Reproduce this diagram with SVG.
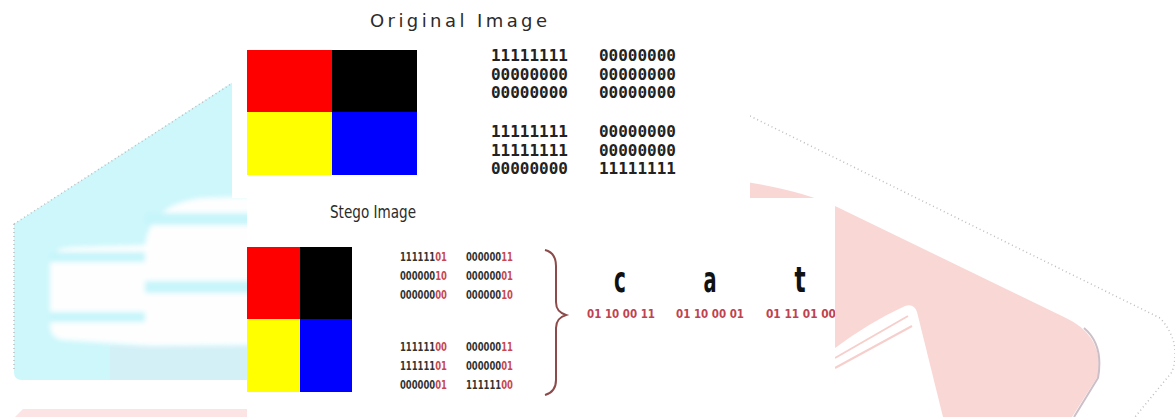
<svg xmlns="http://www.w3.org/2000/svg" width="1175" height="417" viewBox="0 0 1175 417">
<defs>
<style>
.bin{font-family:"DejaVu Sans Mono",monospace;font-weight:bold;font-size:16px;fill:#222}
.sbin{font-family:"DejaVu Sans Condensed","DejaVu Sans",sans-serif;font-weight:bold;font-size:13px;fill:#333}
.r{fill:#c8474f}
.pair{font-family:"DejaVu Sans Condensed","DejaVu Sans",sans-serif;font-weight:bold;font-size:12px;fill:#bf4250}
.letter{font-family:"DejaVu Sans Condensed","DejaVu Sans",sans-serif;font-weight:bold;font-size:36px;fill:#111;text-anchor:middle}
.title{font-family:"DejaVu Sans",sans-serif;fill:#2b2b2b}
.dots{fill:none;stroke:#bdbdbd;stroke-width:1.5;stroke-dasharray:1 3}
.cy{fill:#c6f5fa}
</style>
<filter id="soft" x="-10%" y="-10%" width="120%" height="120%"><feGaussianBlur stdDeviation="2.5"/></filter>
<clipPath id="stegoClip"><rect x="247" y="198" width="588" height="219"/></clipPath>
</defs>
<rect width="1175" height="417" fill="#ffffff"/>
<g id="watermark">
  <path d="M14,224 L236,80 L262,80 L262,380 L22,380 Q14,380 14,372 Z" fill="#cdf7fb"/>
  <rect x="110" y="345" width="152" height="35" fill="#d3f0f7"/>
  <g filter="url(#soft)">
    <path d="M50,262 Q52,247 75,247 L145,245 Q150,205 200,198 L262,196 L262,345 L150,346 L62,340 Q50,338 50,325 Z" fill="#fefefe"/>
    <rect class="cy" x="50" y="252" width="95" height="10"/>
    <rect class="cy" x="50" y="312" width="95" height="10"/>
    <rect class="cy" x="145" y="213" width="117" height="12"/>
    <rect class="cy" x="145" y="281" width="117" height="12"/>
  </g>
  <path class="dots" d="M14,224 L234,82 M14,224 L14,372"/>
  <path d="M15,417 L23,409 L262,409 L262,417 Z" fill="#fde4e4"/>
  <path d="M740,181 Q800,190 835,206 L1066,318 Q1104,336 1098,376 L1072,417 L740,417 Z" fill="#f9d7d4"/>
  <path d="M1084,328 Q1104,345 1098,378 L1074,417" fill="none" stroke="#cdbfc8" stroke-width="2"/>
  <path d="M835,348 Q870,322 905,306 Q914,303 917,312 L943,417 L835,417 Z" fill="#ffffff"/>
  <path d="M835,358 L908,316 M835,368 L912,326" stroke="#f6cfcc" stroke-width="2" fill="none"/>
  <path class="dots" d="M750,116 L1160,318 Q1182,342 1172,372 L1135,417"/>
</g>
<g id="original-panel">
  <rect x="232" y="0" width="518" height="198" fill="#ffffff"/>
  <text class="title" x="370" y="27" font-size="18" textLength="177">Original Image</text>
  <g id="original-pixels">
    <rect x="247" y="50" width="85" height="62" fill="#ff0000"/>
    <rect x="332" y="50" width="85" height="62" fill="#000000"/>
    <rect x="247" y="112" width="85" height="63" fill="#ffff00"/>
    <rect x="332" y="112" width="85" height="63" fill="#0000ff"/>
  </g>
  <g id="original-bits">
    <text class="bin" x="491" y="61" textLength="77">11111111</text>
    <text class="bin" x="599" y="61" textLength="77">00000000</text>
    <text class="bin" x="491" y="80" textLength="77">00000000</text>
    <text class="bin" x="599" y="80" textLength="77">00000000</text>
    <text class="bin" x="491" y="98" textLength="77">00000000</text>
    <text class="bin" x="599" y="98" textLength="77">00000000</text>
    <text class="bin" x="491" y="137" textLength="77">11111111</text>
    <text class="bin" x="599" y="137" textLength="77">00000000</text>
    <text class="bin" x="491" y="156" textLength="77">11111111</text>
    <text class="bin" x="599" y="156" textLength="77">00000000</text>
    <text class="bin" x="491" y="174" textLength="77">00000000</text>
    <text class="bin" x="599" y="174" textLength="77">11111111</text>
  </g>
</g>
<g id="stego-panel" clip-path="url(#stegoClip)">
  <rect x="247" y="198" width="588" height="219" fill="#ffffff"/>
  <text class="title" x="330" y="218" font-size="17" textLength="86" lengthAdjust="spacingAndGlyphs">Stego Image</text>
  <g id="stego-pixels">
    <rect x="247" y="247" width="53" height="72" fill="#ff0000"/>
    <rect x="300" y="247" width="52" height="72" fill="#000000"/>
    <rect x="247" y="319" width="53" height="73" fill="#ffff00"/>
    <rect x="300" y="319" width="52" height="73" fill="#0000ff"/>
  </g>
  <g id="stego-bits">
    <text class="sbin" x="400" y="261" textLength="47" lengthAdjust="spacingAndGlyphs">111111<tspan class="r">01</tspan></text>
    <text class="sbin" x="466" y="261" textLength="47" lengthAdjust="spacingAndGlyphs">000000<tspan class="r">11</tspan></text>
    <text class="sbin" x="400" y="280" textLength="47" lengthAdjust="spacingAndGlyphs">000000<tspan class="r">10</tspan></text>
    <text class="sbin" x="466" y="280" textLength="47" lengthAdjust="spacingAndGlyphs">000000<tspan class="r">01</tspan></text>
    <text class="sbin" x="400" y="299" textLength="47" lengthAdjust="spacingAndGlyphs">000000<tspan class="r">00</tspan></text>
    <text class="sbin" x="466" y="299" textLength="47" lengthAdjust="spacingAndGlyphs">000000<tspan class="r">10</tspan></text>
    <text class="sbin" x="400" y="351" textLength="47" lengthAdjust="spacingAndGlyphs">111111<tspan class="r">00</tspan></text>
    <text class="sbin" x="466" y="351" textLength="47" lengthAdjust="spacingAndGlyphs">000000<tspan class="r">11</tspan></text>
    <text class="sbin" x="400" y="370" textLength="47" lengthAdjust="spacingAndGlyphs">111111<tspan class="r">01</tspan></text>
    <text class="sbin" x="466" y="370" textLength="47" lengthAdjust="spacingAndGlyphs">000000<tspan class="r">01</tspan></text>
    <text class="sbin" x="400" y="389" textLength="47" lengthAdjust="spacingAndGlyphs">000000<tspan class="r">01</tspan></text>
    <text class="sbin" x="466" y="389" textLength="47" lengthAdjust="spacingAndGlyphs">111111<tspan class="r">00</tspan></text>
  </g>
  <g id="connectors">
    <path d="M545,250 C553,252 556,258 556,266 L556,302 C556,310 560,313 566,315 C560,317 556,320 556,328 L556,380 C556,388 552,393 545,395" fill="none" stroke="#8c4a4a" stroke-width="2"/>
  </g>
  <g id="message">
    <text class="letter" transform="translate(620,292) scale(0.62,1)">c</text>
    <text class="letter" transform="translate(710,292) scale(0.6,1)">a</text>
    <text class="letter" transform="translate(800,292) scale(0.72,1)">t</text>
    <text class="pair" x="587" y="318" textLength="68" lengthAdjust="spacingAndGlyphs">01 10 00 11</text>
    <text class="pair" x="676" y="318" textLength="68" lengthAdjust="spacingAndGlyphs">01 10 00 01</text>
    <text class="pair" x="766" y="318" textLength="70" lengthAdjust="spacingAndGlyphs">01 11 01 00</text>
  </g>
</g>
</svg>
